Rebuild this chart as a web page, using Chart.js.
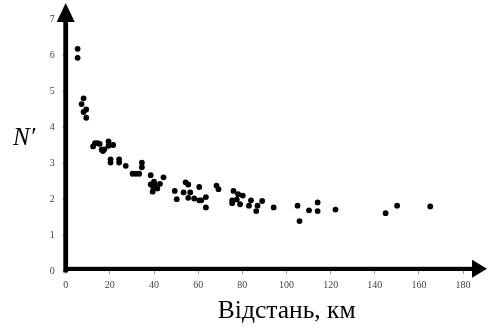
<!DOCTYPE html>
<html>
<head>
<meta charset="utf-8">
<script src="https://cdn.jsdelivr.net/npm/chart.js@4"></script>
<style>
html,body{margin:0;padding:0;background:#fff;}
#wrap{position:relative;width:487px;height:327px;}
canvas{display:block;}
</style>
</head>
<body>
<div id="wrap"><canvas id="c" width="487" height="327"></canvas></div>
<script>
const distanceKm = [5.4,5.4,8.1,7.2,9.3,8.1,9.3,
 12.4,13.3,14.5,15.4,16.3,16.9,17.5,19.4,19.4,21.5,20.3,20.3,24.2,24.2,27.2,30.3,31.8,33.3,34.5,34.5,
 38.5,38.5,40,40.3,39.7,39.4,41.5,42.7,44.3,
 49.4,50.3,53.4,54.3,55.5,56.4,55.5,58.2,60.5,60.5,61.4,63.5,63.5,68.3,69.2,
 76.0,78.1,80.2,75.4,75.4,77.5,79.0,83.0,83.9,86.9,86.3,89.0,94.2,
 105.0,105.9,110.2,114.1,114.1,122.2,144.9,150.1,165.1];
const nValues = [6.19,5.94,4.81,4.65,4.5,4.43,4.27,
 3.47,3.56,3.56,3.54,3.38,3.34,3.39,3.61,3.49,3.51,3.11,3.02,3.11,3.02,2.93,2.71,2.71,2.71,3.02,2.89,
 2.67,2.41,2.49,2.41,2.32,2.21,2.3,2.43,2.61,
 2.23,2.0,2.19,2.47,2.41,2.19,2.04,2.02,2.34,1.97,1.97,2.06,1.77,2.38,2.28,
 2.23,2.14,2.1,1.97,1.89,1.99,1.86,1.82,1.97,1.82,1.67,1.95,1.77,
 1.82,1.39,1.69,1.91,1.67,1.71,1.61,1.82,1.8];
const xTicks = [0,20,40,60,80,100,120,140,160,180];
const yTicks = [0,1,2,3,4,5,6,7];
const xTitle = 'Відстань, км';
const yTitle = 'N\u2032';

const points = distanceKm.map((x,i)=>({x:x,y:nValues[i]}));

const arrows = {
  id:'arrows',
  afterDraw(chart){
    const ctx = chart.ctx, xs = chart.scales.x, ys = chart.scales.y;
    const x0 = xs.getPixelForValue(0), y0 = ys.getPixelForValue(0);
    ctx.save();
    ctx.fillStyle = '#000';
    // y axis shaft
    ctx.fillRect(x0-2.4, 20, 4.8, y0+1.5-20);
    // y arrow head
    ctx.beginPath();
    ctx.moveTo(x0, 3); ctx.lineTo(x0+9, 22); ctx.lineTo(x0-9, 22); ctx.closePath(); ctx.fill();
    // x axis shaft
    const yc = y0-2.2;
    ctx.fillRect(x0, yc-2, 474-x0, 4.2);
    ctx.beginPath();
    ctx.moveTo(487, yc); ctx.lineTo(472, yc-9); ctx.lineTo(472, yc+9); ctx.closePath(); ctx.fill();
    // titles
    ctx.fillStyle = '#000';
    ctx.textBaseline = 'alphabetic';
    ctx.textAlign = 'left';
    ctx.font = 'italic 25px "Liberation Serif", "DejaVu Serif", serif';
    ctx.fillText(yTitle, 13, 145);
    ctx.textAlign = 'center';
    ctx.font = '25.5px "Liberation Serif", "DejaVu Serif", serif';
    ctx.fillText(xTitle, 286.7, 317.5);
    ctx.restore();
  }
};

new Chart(document.getElementById('c'), {
  type:'scatter',
  data:{datasets:[{data:points, backgroundColor:'#000', borderWidth:0, pointRadius:2.9, pointHoverRadius:2.9}]},
  options:{
    responsive:false, animation:false,
    layout:{padding:0},
    plugins:{legend:{display:false}, tooltip:{enabled:false}},
    scales:{
      x:{type:'linear', min:0, max:189.5,
        afterFit(s){s.height=56;},
        afterBuildTicks(s){s.ticks = xTicks.map(v=>({value:v}));},
        border:{display:false},
        grid:{drawOnChartArea:false, drawTicks:true, tickLength:3, color:'#999'},
        ticks:{padding:5, color:'#444', font:{family:'"Liberation Serif", serif', size:10}, maxRotation:0, autoSkip:false}
      },
      y:{type:'linear', min:0, max:7.16,
        afterFit(s){s.width=65.7;},
        afterBuildTicks(s){s.ticks = yTicks.map(v=>({value:v}));},
        border:{display:false},
        grid:{drawOnChartArea:false, drawTicks:true, tickLength:3, color:'#999'},
        ticks:{padding:8, color:'#444', font:{family:'"Liberation Serif", serif', size:10}, autoSkip:false}
      }
    }
  },
  plugins:[arrows]
});
</script>
</body>
</html>
